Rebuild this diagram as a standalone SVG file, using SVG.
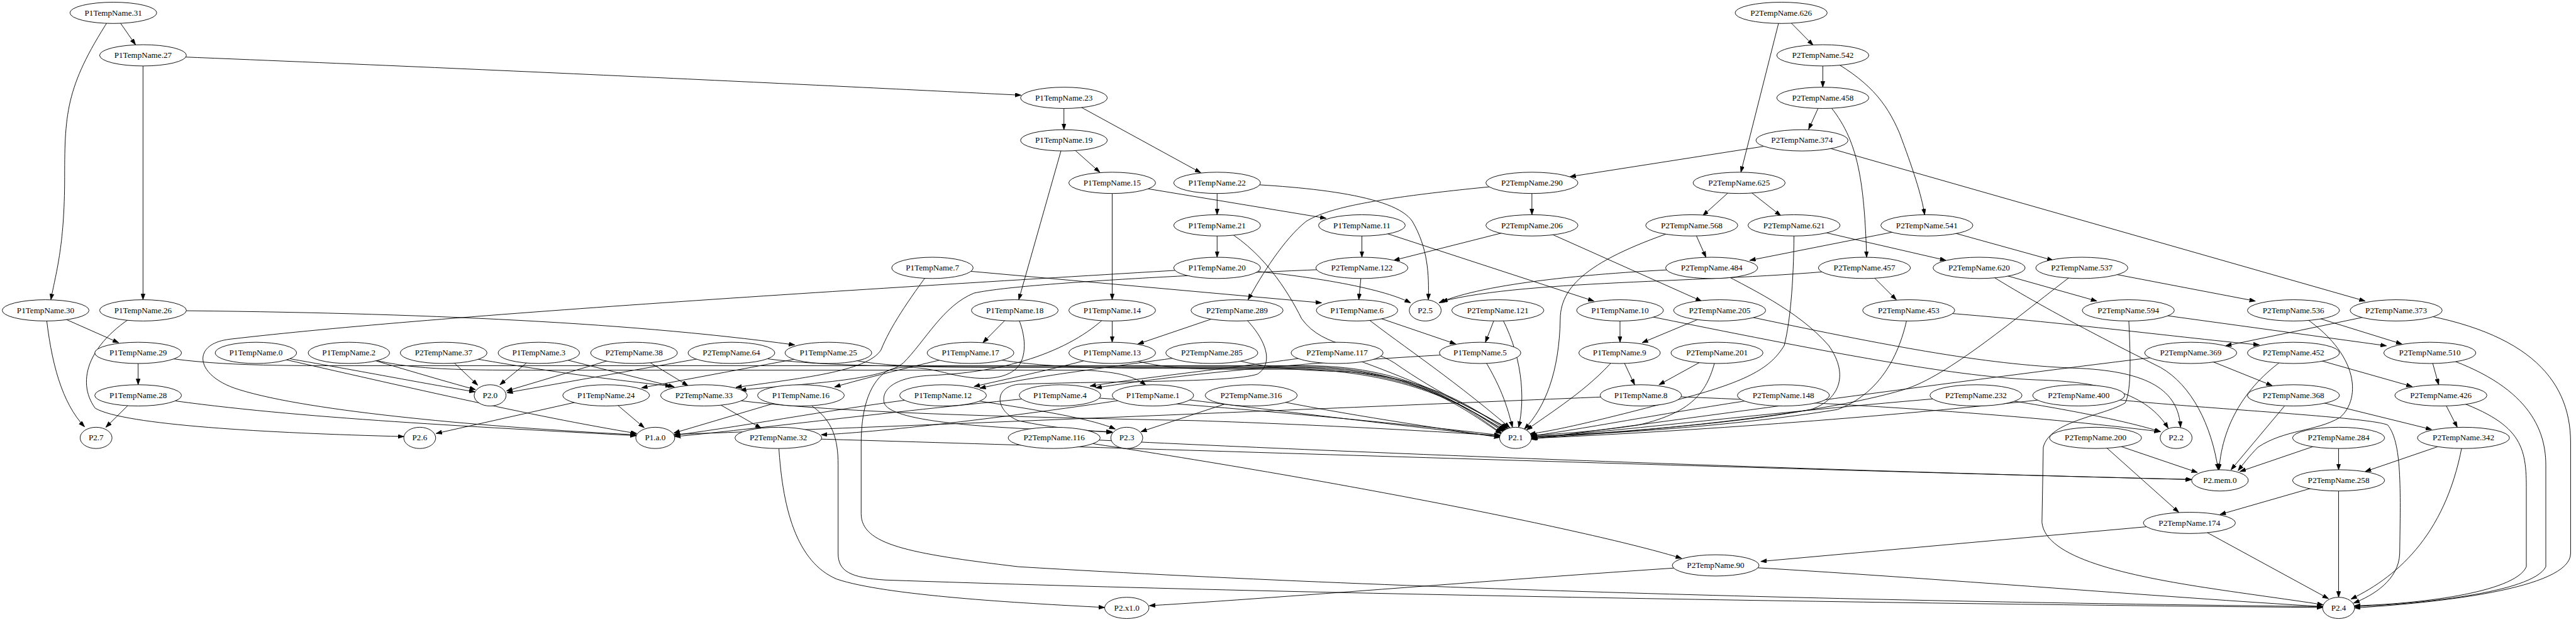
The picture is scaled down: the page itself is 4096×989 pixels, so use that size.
<svg xmlns="http://www.w3.org/2000/svg" width="4096" height="989" viewBox="0 0 4096 989">
<style>
.n ellipse{fill:#fff;stroke:#000;stroke-width:1.33}
.n text{font-family:"Liberation Serif","Times New Roman",serif;font-size:18.67px;text-anchor:middle;fill:#000}
.c path{fill:none;stroke:#000;stroke-width:1.33;marker-end:url(#ah)}
</style>
<defs>
<marker id="ah" markerUnits="userSpaceOnUse" markerWidth="14" markerHeight="10" refX="13.3" refY="4.67" orient="auto"><path d="M0,0 L13.3,4.67 L0,9.33 z" fill="#000" stroke="#000" stroke-width="1"/></marker>
</defs>
<rect width="4096" height="989" fill="#fff"/>
<g transform="scale(0.704)">
<g id="connectors" class="c">
<path d="M256,29 L306,101"/>
<path d="M256,29 C150,190 146,250 146,400 C146,560 125,620 115,677"/>
<path d="M323,125 L323,677"/>
<path d="M323,125 C1200,160 1900,195 2306,215"/>
<path d="M323,701 C900,705 1400,725 1795,779"/>
<path d="M323,701 C200,770 170,860 215,922 C280,960 600,978 912,986"/>
<path d="M103,701 L268,774"/>
<path d="M103,701 C115,820 140,910 191,964"/>
<path d="M312,797 L312,869"/>
<path d="M312,893 L239,965"/>
<path d="M312,893 C600,940 1000,960 1437,984"/>
<path d="M312,797 C450,826 600,826 800,826 L2950,826 C3200,826 3320,930 3391,978"/>
<path d="M2749,605 C2000,650 1000,710 520,766 C430,776 440,850 540,880 C700,930 1100,965 1437,982"/>
<path d="M578,797 C800,835 950,865 1073,885"/>
<path d="M578,797 C900,870 1200,940 1438,979"/>
<path d="M788,797 C900,830 1000,860 1074,880"/>
<path d="M788,797 C900,834 1000,836 1200,836 L2450,836 C2530,840 2565,852 2588,870"/>
<path d="M1002,797 L1079,870"/>
<path d="M1002,797 C1200,835 1400,860 1516,872"/>
<path d="M1217,797 L1129,869"/>
<path d="M1217,797 L1523,874"/>
<path d="M1432,797 L1144,883"/>
<path d="M1432,797 L1554,871"/>
<path d="M1652,797 L1145,887"/>
<path d="M1652,797 C1800,828 2000,828 2300,828 L2950,828 C3200,830 3320,935 3392,980"/>
<path d="M1871,797 L1449,876"/>
<path d="M1871,797 C1950,830 2100,830 2300,830 L2950,830 C3200,835 3320,925 3395,975"/>
<path d="M1369,893 L985,979"/>
<path d="M1369,893 L1455,966"/>
<path d="M1809,893 L1522,978"/>
<path d="M1834,917 C1880,950 1893,990 1893,1050 L1893,1250 C1893,1290 1920,1305 2000,1310 C3000,1345 4500,1366 5246,1372"/>
<path d="M1758,989 C1765,1150 1800,1270 1890,1308 C2000,1345 2300,1362 2495,1372"/>
<path d="M1758,989 C2500,1010 4000,1060 4950,1083"/>
<path d="M1590,893 L1719,967"/>
<path d="M1590,893 C1800,930 2200,940 2700,950 C3000,960 3250,975 3388,984"/>
<path d="M2192,797 C2050,830 1950,855 1885,874"/>
<path d="M2192,797 C2300,832 2500,832 2700,832 L2950,832 C3200,840 3320,925 3397,973"/>
<path d="M2292,701 L2220,774"/>
<path d="M2292,701 C2322,760 2318,810 2296,832 C2260,865 2190,855 2143,844 C2090,830 2030,822 2000,840 C1960,870 1945,930 1945,1003 L1945,1160 C1945,1230 2050,1250 2300,1280 C3300,1340 4500,1362 5246,1370"/>
<path d="M2512,701 L2512,773"/>
<path d="M2512,701 C2440,780 2300,840 2100,848 C2020,852 1990,880 1997,910 C2010,950 2200,968 2512,975"/>
<path d="M2737,797 C2500,830 2320,852 2213,877"/>
<path d="M2512,797 C2400,830 2300,850 2200,873"/>
<path d="M2512,797 C2600,834 2700,834 2800,834 L2950,834 C3200,845 3320,925 3399,972"/>
<path d="M2403,221 L2403,293"/>
<path d="M2403,221 L2712,390"/>
<path d="M2403,317 L2484,389"/>
<path d="M2403,317 L2301,677"/>
<path d="M2512,413 L2512,677"/>
<path d="M2512,413 L2995,493"/>
<path d="M2749,413 L2749,485"/>
<path d="M2749,413 C2950,420 3150,440 3190,500 C3225,560 3228,620 3226,677"/>
<path d="M2749,509 L2749,581"/>
<path d="M2749,509 C2850,560 2910,660 2940,720 C2990,790 3090,780 3150,820 C3250,890 3340,930 3406,967"/>
<path d="M2749,605 C2950,620 3120,650 3186,684"/>
<path d="M2106,605 L2985,684"/>
<path d="M2106,605 C2050,680 2010,740 1990,790 C1960,840 1800,855 1662,875"/>
<path d="M3076,605 C2700,620 2300,640 2200,662 C2130,690 2090,770 2040,820 C1990,860 1820,866 1672,881"/>
<path d="M3076,605 L3069,677"/>
<path d="M3076,509 L3076,581"/>
<path d="M3076,509 L3600,680"/>
<path d="M3460,413 L3460,485"/>
<path d="M3460,413 C3100,445 3000,470 2950,500 C2900,540 2850,620 2819,677"/>
<path d="M3460,509 L3148,588"/>
<path d="M3460,509 L3843,680"/>
<path d="M4070,317 L3546,399"/>
<path d="M4070,317 L5342,680"/>
<path d="M4023,29 L4095,102"/>
<path d="M4023,29 L3932,389"/>
<path d="M4117,125 L4117,197"/>
<path d="M4117,125 C4220,180 4260,230 4290,300 C4320,380 4340,440 4347,485"/>
<path d="M4117,221 L4085,292"/>
<path d="M4117,221 C4190,300 4210,380 4216,581"/>
<path d="M3928,413 L3846,487"/>
<path d="M3928,413 L4022,487"/>
<path d="M3821,509 L3853,581"/>
<path d="M3821,509 C3600,580 3525,640 3524,720 C3522,840 3490,920 3443,969"/>
<path d="M4052,509 L4395,588"/>
<path d="M4052,509 C4052,620 4045,720 4030,780 C4000,830 3950,860 3800,900 C3650,940 3520,972 3455,980"/>
<path d="M4352,509 L3952,588"/>
<path d="M4352,509 L4637,588"/>
<path d="M3866,605 C3950,650 4060,700 4130,780 C4180,850 4150,905 4090,925 C3900,960 3600,980 3459,987"/>
<path d="M4211,605 C3900,640 3450,630 3256,681"/>
<path d="M3866,605 C3600,615 3350,640 3250,684"/>
<path d="M4211,605 L4283,677"/>
<path d="M4470,605 L4736,680"/>
<path d="M4470,605 C4600,690 4800,790 4880,830 C4950,870 4995,960 5010,1061"/>
<path d="M4702,605 C4550,720 4400,850 4300,880 C4100,940 3700,975 3459,990"/>
<path d="M4702,605 L5094,680"/>
<path d="M4311,701 C4600,720 4900,760 5103,779"/>
<path d="M4311,701 C4300,760 4270,880 4150,925 C3900,965 3600,982 3458,985"/>
<path d="M3884,701 L3709,774"/>
<path d="M3884,701 C4300,790 4500,825 4700,832 C4850,840 4920,880 4925,965"/>
<path d="M3659,701 C4100,790 4400,850 4600,858 C4750,862 4850,890 4897,967"/>
<path d="M3659,701 L3659,773"/>
<path d="M3658,797 L3692,869"/>
<path d="M3658,797 C3600,870 3520,920 3448,971"/>
<path d="M3878,797 L3747,869"/>
<path d="M3878,797 C3860,880 3830,930 3700,960 C3600,975 3500,982 3457,983"/>
<path d="M3706,893 C3000,922 2000,965 1523,981"/>
<path d="M3706,893 C4200,910 4600,940 4879,975"/>
<path d="M4028,893 C3800,925 3600,965 3458,985"/>
<path d="M4463,893 C4000,930 3700,970 3459,988"/>
<path d="M4463,893 C4650,920 4800,950 4880,975"/>
<path d="M4695,893 C4300,940 3800,975 3459,990"/>
<path d="M4695,893 C4900,920 5350,940 5393,960 C5425,1000 5422,1100 5420,1250 C5418,1310 5360,1345 5316,1362"/>
<path d="M4807,701 C4812,800 4815,880 4800,910 C4750,940 4630,950 4615,1010 L4612,1180 C4620,1260 4800,1300 5000,1330 C5100,1345 5200,1358 5247,1366"/>
<path d="M4807,701 L5390,781"/>
<path d="M5180,701 L5425,777"/>
<path d="M5180,701 C5330,790 5335,900 5285,943 C5230,975 5160,970 5100,1010 C5080,1030 5065,1050 5055,1063"/>
<path d="M5412,701 L5027,781"/>
<path d="M5412,701 C5700,740 5806,850 5806,1000 L5806,1250 C5806,1330 5500,1362 5318,1373"/>
<path d="M4948,797 L5132,871"/>
<path d="M4948,797 C4500,850 4000,920 3458,992"/>
<path d="M5180,797 C5080,860 5020,950 5012,1061"/>
<path d="M5180,797 L5448,873"/>
<path d="M5488,797 L5508,869"/>
<path d="M5488,797 C5700,860 5750,960 5750,1050 L5750,1280 C5720,1340 5450,1365 5318,1370"/>
<path d="M5180,893 L5039,1061"/>
<path d="M5180,893 L5492,970"/>
<path d="M5513,893 L5550,965"/>
<path d="M5513,893 C5690,950 5706,1000 5706,1100 L5706,1280 C5680,1340 5450,1365 5318,1368"/>
<path d="M5282,989 L5059,1065"/>
<path d="M5282,989 L5282,1061"/>
<path d="M5564,989 L5342,1065"/>
<path d="M5564,989 C5530,1200 5420,1300 5310,1353"/>
<path d="M5282,1085 L5014,1162"/>
<path d="M5282,1085 L5282,1349"/>
<path d="M4945,1181 L5259,1352"/>
<path d="M4945,1181 L3977,1268"/>
<path d="M4733,989 L4921,1157"/>
<path d="M4733,989 L4963,1067"/>
<path d="M2381,989 C3000,1080 3600,1200 3798,1261"/>
<path d="M2381,989 C3000,1020 4000,1060 4950,1083"/>
<path d="M3875,1277 C3500,1300 2900,1350 2596,1368"/>
<path d="M3875,1277 C4300,1300 4900,1350 5246,1370"/>
<path d="M2794,701 L2570,777"/>
<path d="M2794,701 C2860,760 2880,820 2840,845 C2780,865 2500,860 2300,868 C2240,875 2250,930 2300,950 C2380,968 2460,972 2513,977"/>
<path d="M3383,701 L3355,773"/>
<path d="M3383,701 C3440,800 3445,900 3430,965"/>
<path d="M3065,701 L3288,777"/>
<path d="M3065,701 C3150,770 3263,841 3410,966"/>
<path d="M3343,797 C3390,870 3405,920 3416,965"/>
<path d="M3343,797 C3000,815 2700,840 2475,876"/>
<path d="M3020,797 C2800,830 2600,850 2462,872"/>
<path d="M3020,797 C3200,860 3330,920 3403,968"/>
<path d="M2826,893 L2577,975"/>
<path d="M2826,893 C3000,930 3200,960 3388,988"/>
<path d="M2130,893 C2300,920 2450,940 2519,969"/>
<path d="M2130,893 C1900,920 1700,960 1523,983"/>
<path d="M2394,893 C2000,930 1700,970 1524,986"/>
<path d="M2394,893 C2800,920 3200,960 3388,983"/>
<path d="M2604,893 C2300,940 2000,975 1855,982"/>
<path d="M2604,893 C2900,930 3200,965 3388,986"/>
<path d="M2737,797 C2850,836 2950,836 3050,840 C3250,860 3330,925 3401,970"/>
</g>
<g id="n_P1TempName_31" class="n"><ellipse cx="256" cy="29" rx="98" ry="24"/><text x="256" y="35">P1TempName.31</text></g>
<g id="n_P2TempName_626" class="n"><ellipse cx="4023" cy="29" rx="104" ry="24"/><text x="4023" y="35">P2TempName.626</text></g>
<g id="n_P1TempName_27" class="n"><ellipse cx="323" cy="125" rx="98" ry="24"/><text x="323" y="131">P1TempName.27</text></g>
<g id="n_P2TempName_542" class="n"><ellipse cx="4117" cy="125" rx="104" ry="24"/><text x="4117" y="131">P2TempName.542</text></g>
<g id="n_P1TempName_23" class="n"><ellipse cx="2403" cy="221" rx="98" ry="24"/><text x="2403" y="227">P1TempName.23</text></g>
<g id="n_P2TempName_458" class="n"><ellipse cx="4117" cy="221" rx="104" ry="24"/><text x="4117" y="227">P2TempName.458</text></g>
<g id="n_P1TempName_19" class="n"><ellipse cx="2403" cy="317" rx="98" ry="24"/><text x="2403" y="323">P1TempName.19</text></g>
<g id="n_P2TempName_374" class="n"><ellipse cx="4070" cy="317" rx="104" ry="24"/><text x="4070" y="323">P2TempName.374</text></g>
<g id="n_P1TempName_15" class="n"><ellipse cx="2512" cy="413" rx="98" ry="24"/><text x="2512" y="419">P1TempName.15</text></g>
<g id="n_P1TempName_22" class="n"><ellipse cx="2749" cy="413" rx="98" ry="24"/><text x="2749" y="419">P1TempName.22</text></g>
<g id="n_P2TempName_290" class="n"><ellipse cx="3460" cy="413" rx="104" ry="24"/><text x="3460" y="419">P2TempName.290</text></g>
<g id="n_P2TempName_625" class="n"><ellipse cx="3928" cy="413" rx="104" ry="24"/><text x="3928" y="419">P2TempName.625</text></g>
<g id="n_P1TempName_21" class="n"><ellipse cx="2749" cy="509" rx="98" ry="24"/><text x="2749" y="515">P1TempName.21</text></g>
<g id="n_P1TempName_11" class="n"><ellipse cx="3076" cy="509" rx="98" ry="24"/><text x="3076" y="515">P1TempName.11</text></g>
<g id="n_P2TempName_206" class="n"><ellipse cx="3460" cy="509" rx="104" ry="24"/><text x="3460" y="515">P2TempName.206</text></g>
<g id="n_P2TempName_568" class="n"><ellipse cx="3821" cy="509" rx="104" ry="24"/><text x="3821" y="515">P2TempName.568</text></g>
<g id="n_P2TempName_621" class="n"><ellipse cx="4052" cy="509" rx="104" ry="24"/><text x="4052" y="515">P2TempName.621</text></g>
<g id="n_P2TempName_541" class="n"><ellipse cx="4352" cy="509" rx="104" ry="24"/><text x="4352" y="515">P2TempName.541</text></g>
<g id="n_P1TempName_7" class="n"><ellipse cx="2106" cy="605" rx="92" ry="24"/><text x="2106" y="611">P1TempName.7</text></g>
<g id="n_P1TempName_20" class="n"><ellipse cx="2749" cy="605" rx="98" ry="24"/><text x="2749" y="611">P1TempName.20</text></g>
<g id="n_P2TempName_122" class="n"><ellipse cx="3076" cy="605" rx="104" ry="24"/><text x="3076" y="611">P2TempName.122</text></g>
<g id="n_P2TempName_484" class="n"><ellipse cx="3866" cy="605" rx="104" ry="24"/><text x="3866" y="611">P2TempName.484</text></g>
<g id="n_P2TempName_457" class="n"><ellipse cx="4211" cy="605" rx="104" ry="24"/><text x="4211" y="611">P2TempName.457</text></g>
<g id="n_P2TempName_620" class="n"><ellipse cx="4470" cy="605" rx="104" ry="24"/><text x="4470" y="611">P2TempName.620</text></g>
<g id="n_P2TempName_537" class="n"><ellipse cx="4702" cy="605" rx="104" ry="24"/><text x="4702" y="611">P2TempName.537</text></g>
<g id="n_P1TempName_30" class="n"><ellipse cx="103" cy="701" rx="98" ry="24"/><text x="103" y="707">P1TempName.30</text></g>
<g id="n_P1TempName_26" class="n"><ellipse cx="323" cy="701" rx="98" ry="24"/><text x="323" y="707">P1TempName.26</text></g>
<g id="n_P1TempName_18" class="n"><ellipse cx="2292" cy="701" rx="98" ry="24"/><text x="2292" y="707">P1TempName.18</text></g>
<g id="n_P1TempName_14" class="n"><ellipse cx="2512" cy="701" rx="98" ry="24"/><text x="2512" y="707">P1TempName.14</text></g>
<g id="n_P2TempName_289" class="n"><ellipse cx="2794" cy="701" rx="104" ry="24"/><text x="2794" y="707">P2TempName.289</text></g>
<g id="n_P1TempName_6" class="n"><ellipse cx="3065" cy="701" rx="92" ry="24"/><text x="3065" y="707">P1TempName.6</text></g>
<g id="n_P2_5" class="n"><ellipse cx="3219" cy="701" rx="36" ry="24"/><text x="3219" y="707">P2.5</text></g>
<g id="n_P2TempName_121" class="n"><ellipse cx="3383" cy="701" rx="104" ry="24"/><text x="3383" y="707">P2TempName.121</text></g>
<g id="n_P1TempName_10" class="n"><ellipse cx="3659" cy="701" rx="98" ry="24"/><text x="3659" y="707">P1TempName.10</text></g>
<g id="n_P2TempName_205" class="n"><ellipse cx="3884" cy="701" rx="104" ry="24"/><text x="3884" y="707">P2TempName.205</text></g>
<g id="n_P2TempName_453" class="n"><ellipse cx="4311" cy="701" rx="104" ry="24"/><text x="4311" y="707">P2TempName.453</text></g>
<g id="n_P2TempName_594" class="n"><ellipse cx="4807" cy="701" rx="104" ry="24"/><text x="4807" y="707">P2TempName.594</text></g>
<g id="n_P2TempName_536" class="n"><ellipse cx="5180" cy="701" rx="104" ry="24"/><text x="5180" y="707">P2TempName.536</text></g>
<g id="n_P2TempName_373" class="n"><ellipse cx="5412" cy="701" rx="104" ry="24"/><text x="5412" y="707">P2TempName.373</text></g>
<g id="n_P1TempName_29" class="n"><ellipse cx="312" cy="797" rx="98" ry="24"/><text x="312" y="803">P1TempName.29</text></g>
<g id="n_P1TempName_0" class="n"><ellipse cx="578" cy="797" rx="92" ry="24"/><text x="578" y="803">P1TempName.0</text></g>
<g id="n_P1TempName_2" class="n"><ellipse cx="788" cy="797" rx="92" ry="24"/><text x="788" y="803">P1TempName.2</text></g>
<g id="n_P2TempName_37" class="n"><ellipse cx="1002" cy="797" rx="98" ry="24"/><text x="1002" y="803">P2TempName.37</text></g>
<g id="n_P1TempName_3" class="n"><ellipse cx="1217" cy="797" rx="92" ry="24"/><text x="1217" y="803">P1TempName.3</text></g>
<g id="n_P2TempName_38" class="n"><ellipse cx="1432" cy="797" rx="98" ry="24"/><text x="1432" y="803">P2TempName.38</text></g>
<g id="n_P2TempName_64" class="n"><ellipse cx="1652" cy="797" rx="98" ry="24"/><text x="1652" y="803">P2TempName.64</text></g>
<g id="n_P1TempName_25" class="n"><ellipse cx="1871" cy="797" rx="98" ry="24"/><text x="1871" y="803">P1TempName.25</text></g>
<g id="n_P1TempName_17" class="n"><ellipse cx="2192" cy="797" rx="98" ry="24"/><text x="2192" y="803">P1TempName.17</text></g>
<g id="n_P1TempName_13" class="n"><ellipse cx="2512" cy="797" rx="98" ry="24"/><text x="2512" y="803">P1TempName.13</text></g>
<g id="n_P2TempName_285" class="n"><ellipse cx="2737" cy="797" rx="104" ry="24"/><text x="2737" y="803">P2TempName.285</text></g>
<g id="n_P2TempName_117" class="n"><ellipse cx="3020" cy="797" rx="104" ry="24"/><text x="3020" y="803">P2TempName.117</text></g>
<g id="n_P1TempName_5" class="n"><ellipse cx="3343" cy="797" rx="92" ry="24"/><text x="3343" y="803">P1TempName.5</text></g>
<g id="n_P1TempName_9" class="n"><ellipse cx="3658" cy="797" rx="92" ry="24"/><text x="3658" y="803">P1TempName.9</text></g>
<g id="n_P2TempName_201" class="n"><ellipse cx="3878" cy="797" rx="104" ry="24"/><text x="3878" y="803">P2TempName.201</text></g>
<g id="n_P2TempName_369" class="n"><ellipse cx="4948" cy="797" rx="104" ry="24"/><text x="4948" y="803">P2TempName.369</text></g>
<g id="n_P2TempName_452" class="n"><ellipse cx="5180" cy="797" rx="104" ry="24"/><text x="5180" y="803">P2TempName.452</text></g>
<g id="n_P2TempName_510" class="n"><ellipse cx="5488" cy="797" rx="104" ry="24"/><text x="5488" y="803">P2TempName.510</text></g>
<g id="n_P1TempName_28" class="n"><ellipse cx="312" cy="893" rx="98" ry="24"/><text x="312" y="899">P1TempName.28</text></g>
<g id="n_P2_0" class="n"><ellipse cx="1107" cy="893" rx="36" ry="24"/><text x="1107" y="899">P2.0</text></g>
<g id="n_P1TempName_24" class="n"><ellipse cx="1369" cy="893" rx="98" ry="24"/><text x="1369" y="899">P1TempName.24</text></g>
<g id="n_P2TempName_33" class="n"><ellipse cx="1590" cy="893" rx="98" ry="24"/><text x="1590" y="899">P2TempName.33</text></g>
<g id="n_P1TempName_16" class="n"><ellipse cx="1809" cy="893" rx="98" ry="24"/><text x="1809" y="899">P1TempName.16</text></g>
<g id="n_P1TempName_12" class="n"><ellipse cx="2130" cy="893" rx="98" ry="24"/><text x="2130" y="899">P1TempName.12</text></g>
<g id="n_P1TempName_4" class="n"><ellipse cx="2394" cy="893" rx="92" ry="24"/><text x="2394" y="899">P1TempName.4</text></g>
<g id="n_P1TempName_1" class="n"><ellipse cx="2604" cy="893" rx="92" ry="24"/><text x="2604" y="899">P1TempName.1</text></g>
<g id="n_P2TempName_316" class="n"><ellipse cx="2826" cy="893" rx="104" ry="24"/><text x="2826" y="899">P2TempName.316</text></g>
<g id="n_P1TempName_8" class="n"><ellipse cx="3706" cy="893" rx="92" ry="24"/><text x="3706" y="899">P1TempName.8</text></g>
<g id="n_P2TempName_148" class="n"><ellipse cx="4028" cy="893" rx="104" ry="24"/><text x="4028" y="899">P2TempName.148</text></g>
<g id="n_P2TempName_232" class="n"><ellipse cx="4463" cy="893" rx="104" ry="24"/><text x="4463" y="899">P2TempName.232</text></g>
<g id="n_P2TempName_400" class="n"><ellipse cx="4695" cy="893" rx="104" ry="24"/><text x="4695" y="899">P2TempName.400</text></g>
<g id="n_P2TempName_368" class="n"><ellipse cx="5180" cy="893" rx="104" ry="24"/><text x="5180" y="899">P2TempName.368</text></g>
<g id="n_P2TempName_426" class="n"><ellipse cx="5513" cy="893" rx="104" ry="24"/><text x="5513" y="899">P2TempName.426</text></g>
<g id="n_P2_7" class="n"><ellipse cx="217" cy="989" rx="36" ry="24"/><text x="217" y="995">P2.7</text></g>
<g id="n_P2_6" class="n"><ellipse cx="948" cy="989" rx="36" ry="24"/><text x="948" y="995">P2.6</text></g>
<g id="n_P1_a_0" class="n"><ellipse cx="1480" cy="989" rx="44" ry="24"/><text x="1480" y="995">P1.a.0</text></g>
<g id="n_P2TempName_32" class="n"><ellipse cx="1758" cy="989" rx="98" ry="24"/><text x="1758" y="995">P2TempName.32</text></g>
<g id="n_P2TempName_116" class="n"><ellipse cx="2381" cy="989" rx="104" ry="24"/><text x="2381" y="995">P2TempName.116</text></g>
<g id="n_P2_3" class="n"><ellipse cx="2545" cy="989" rx="36" ry="24"/><text x="2545" y="995">P2.3</text></g>
<g id="n_P2_1" class="n"><ellipse cx="3423" cy="989" rx="36" ry="24"/><text x="3423" y="995">P2.1</text></g>
<g id="n_P2TempName_200" class="n"><ellipse cx="4733" cy="989" rx="104" ry="24"/><text x="4733" y="995">P2TempName.200</text></g>
<g id="n_P2_2" class="n"><ellipse cx="4915" cy="989" rx="36" ry="24"/><text x="4915" y="995">P2.2</text></g>
<g id="n_P2TempName_284" class="n"><ellipse cx="5282" cy="989" rx="104" ry="24"/><text x="5282" y="995">P2TempName.284</text></g>
<g id="n_P2TempName_342" class="n"><ellipse cx="5564" cy="989" rx="104" ry="24"/><text x="5564" y="995">P2TempName.342</text></g>
<g id="n_P2_mem_0" class="n"><ellipse cx="5014" cy="1085" rx="64" ry="24"/><text x="5014" y="1091">P2.mem.0</text></g>
<g id="n_P2TempName_258" class="n"><ellipse cx="5282" cy="1085" rx="104" ry="24"/><text x="5282" y="1091">P2TempName.258</text></g>
<g id="n_P2TempName_174" class="n"><ellipse cx="4945" cy="1181" rx="104" ry="24"/><text x="4945" y="1187">P2TempName.174</text></g>
<g id="n_P2TempName_90" class="n"><ellipse cx="3875" cy="1277" rx="98" ry="24"/><text x="3875" y="1283">P2TempName.90</text></g>
<g id="n_P2_x1_0" class="n"><ellipse cx="2545" cy="1373" rx="50" ry="24"/><text x="2545" y="1379">P2.x1.0</text></g>
<g id="n_P2_4" class="n"><ellipse cx="5282" cy="1373" rx="36" ry="24"/><text x="5282" y="1379">P2.4</text></g>
</g>
</svg>
